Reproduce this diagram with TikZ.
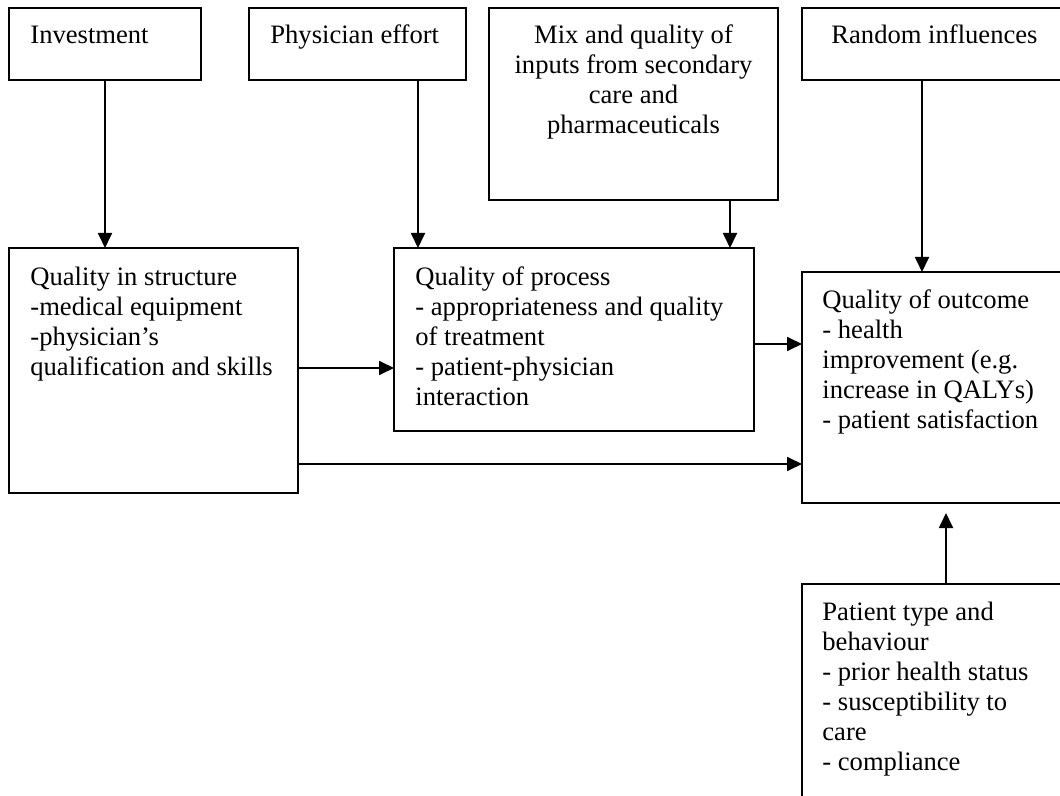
\documentclass[tikz,border=0pt]{standalone}
\usepackage{fontspec}
\setmainfont{Liberation Serif}
\usetikzlibrary{arrows.meta}
\begin{document}
\begin{tikzpicture}[x=0.5pt,y=-0.5pt,
  box/.style={draw, line width=0.9pt, inner sep=0pt, outer sep=0pt, anchor=north west},
  txt/.style={anchor=north west, inner sep=0pt, align=left, font=\fontsize{13.3pt}{15pt}\selectfont},
  ctxt/.style={anchor=north, inner sep=0pt, align=center, font=\fontsize{13.3pt}{15pt}\selectfont},
  arr/.style={line width=0.9pt, -{Triangle[length=7.5pt,width=7pt]}}]
\useasboundingbox (0,0) rectangle (1060,796);
\clip (0,0) rectangle (1060,796);
% boxes
\node[box, minimum width=96pt, minimum height=36pt] (inv) at (9,8) {};
\node[box, minimum width=108.5pt, minimum height=36pt] (phys) at (249,8) {};
\node[box, minimum width=144.5pt, minimum height=96pt] (mix) at (489,8) {};
\node[box, minimum width=150pt, minimum height=36pt] (rand) at (802,8) {};
\node[box, minimum width=144.5pt, minimum height=122.5pt] (struct) at (9,248) {};
\node[box, minimum width=180pt, minimum height=91.5pt] (proc) at (394,248) {};
\node[box, minimum width=150pt, minimum height=115.5pt] (outc) at (802,272) {};
\node[box, minimum width=144pt, minimum height=125pt] (pat) at (802,584) {};
% texts
\node[txt] (invt) at (30,22) {\strut Investment};
\node[txt] (physt) at (270,22) {\strut Physician effort};
\node[ctxt] (mixt) at (633.5,22) {\strut Mix and quality of\\inputs from secondary\\care and\\pharmaceuticals};
\node[txt] (randt) at (831,22) {\strut Random influences};
\node[txt] (structt) at (30,264) {\strut Quality in structure\\-medical equipment\\-physician’s\\qualification and skills};
\node[txt] (proct) at (415,264) {\strut Quality of process\\- appropriateness and quality\\of treatment\\- patient-physician\\interaction};
\node[txt] (outct) at (822,287) {\strut Quality of outcome\\- health\\improvement (e.g.\\increase in QALYs)\\- patient satisfaction};
\node[txt] (patt) at (822,599) {\strut Patient type and\\behaviour\\- prior health status\\- susceptibility to\\care\\- compliance};
% connectors
\coordinate (xa) at (418,0);
\coordinate (xb) at (730,0);
\coordinate (xc) at (922,0);
\coordinate (ya) at (0,368);
\coordinate (yb) at (0,344);
\coordinate (yc) at (0,464);
\coordinate (ptip) at (946,513);
\draw[arr] (inv.south) -- (inv.south |- struct.north);
\draw[arr] (phys.south -| xa) -- (proc.north -| xa);
\draw[arr] (mix.south -| xb) -- (proc.north -| xb);
\draw[arr] (rand.south -| xc) -- (outc.north -| xc);
\draw[arr] (struct.east |- ya) -- (proc.west |- ya);
\draw[arr] (proc.east |- yb) -- (outc.west |- yb);
\draw[arr] (struct.east |- yc) -- (outc.west |- yc);
\draw[arr] (pat.north) -- (ptip);
\end{tikzpicture}
\end{document}
